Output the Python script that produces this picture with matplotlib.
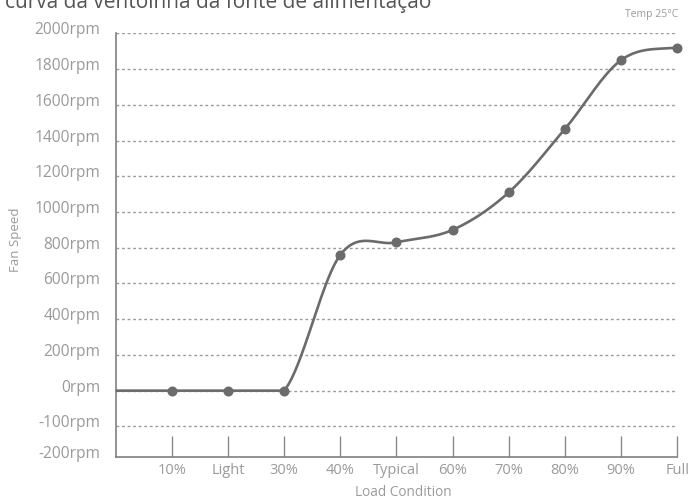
import numpy as np
import matplotlib
matplotlib.use('Agg')
import matplotlib.pyplot as plt
import matplotlib.transforms as mtransforms

# ---- data ----
categories = ['', '10%', 'Light', '30%', '40%', 'Typical', '60%', '70%', '80%', '90%', 'Full']
fan_speed = [0, 0, 0, 0, 760, 830, 900, 1110, 1465, 1850, 1920]
show_marker = [False, True, True, True, True, True, True, True, True, True, True]
ytick_values = [2000, 1800, 1600, 1400, 1200, 1000, 800, 600, 400, 200, 0, -200]
ytick_labels = ['2000rpm', '1800rpm', '1600rpm', '1400rpm', '1200rpm', '1000rpm',
                '800rpm', '600rpm', '400rpm', '200rpm', '0rpm', '-100rpm']
y_bottom_value = -373
y_bottom_label = '-200rpm'
title = 'curva da ventoinha da fonte de alimentação'
note = 'Temp 25°C'
xlabel = 'Load Condition'
ylabel = 'Fan Speed'

plt.rcParams['font.family'] = ['Open Sans', 'DejaVu Sans']

W, H = 696, 500
fig = plt.figure(figsize=(W / 100, H / 100), dpi=100)
ax = fig.add_axes([115.7 / W, 1 - 457.3 / H, (677.3 - 115.7) / W, (457.3 - 33.3) / H])

# ---- smooth curve (cardinal spline, flat segments kept straight) ----
x = np.arange(len(fan_speed), dtype=float)
y = np.array(fan_speed, dtype=float)
n = len(y)
d = np.diff(y)
m = np.zeros(n)
for k in range(1, n - 1):
    m[k] = (y[k + 1] - y[k - 1]) / 2.0
m[0] = d[0] / 2.0
m[-1] = d[-1] / 2.0
cx, cy = [], []
for k in range(n - 1):
    t = np.linspace(0, 1, 60)
    if d[k] == 0:
        m0 = m1 = 0.0
    else:
        m0, m1 = m[k], m[k + 1]
    h00 = 2 * t**3 - 3 * t**2 + 1
    h10 = t**3 - 2 * t**2 + t
    h01 = -2 * t**3 + 3 * t**2
    h11 = t**3 - t**2
    cx.extend(x[k] + t)
    cy.extend(h00 * y[k] + h10 * m0 + h01 * y[k + 1] + h11 * m1)

line_color = '#6b6b6b'
ax.plot(cx, cy, color=line_color, lw=1.9, solid_capstyle='butt', zorder=3, clip_on=False)
mx = [xi for xi, s in zip(x, show_marker) if s]
my = [yi for yi, s in zip(y, show_marker) if s]
ax.plot(mx, my, 'o', color=line_color, ms=6.2, zorder=4, clip_on=False)

# ---- axes ----
ax.set_xlim(0, len(categories) - 1)
ax.set_ylim(y_bottom_value, ytick_values[0])

grid_color = '#9a9a9a'
for v in ytick_values:
    ax.axhline(v, color=grid_color, lw=1.0, ls=(0, (2, 2)), zorder=1)

ax.set_yticks(ytick_values + [y_bottom_value])
ax.set_yticklabels(ytick_labels + [y_bottom_label])
ax.tick_params(axis='y', length=0, pad=11.3, labelsize=11.2, labelcolor='#9a9a9a')
off = mtransforms.ScaledTranslation(0, 5 / 100, fig.dpi_scale_trans)
for lab in ax.get_yticklabels():
    lab.set_transform(lab.get_transform() + off)

ax.set_xticks(x[1:])
ax.set_xticklabels(categories[1:])
ax.tick_params(axis='x', direction='in', length=15, width=1.0, color='#8a8a8a',
               pad=4, labelsize=10.5, labelcolor='#9a9a9a')

for s in ['top', 'right']:
    ax.spines[s].set_visible(False)
for s in ['left', 'bottom']:
    ax.spines[s].set_color('#808080')
    ax.spines[s].set_linewidth(1.2)

fig.text(403 / W, 1 - 492 / H, xlabel, ha='center', va='center', fontsize=9.8, color='#9a9a9a')
fig.text(15 / W, 1 - 240 / H, ylabel, ha='center', va='center', rotation=90, fontsize=9.5, color='#9a9a9a')
fig.text(5 / W, 1 - 8.3 / H, title, ha='left', va='baseline', fontsize=15, color='#555555')
fig.text(678 / W, 1 - 15 / H, note, ha='right', va='center', fontsize=7.5, color='#9a9a9a')

fig.savefig('out.png', dpi=100)
